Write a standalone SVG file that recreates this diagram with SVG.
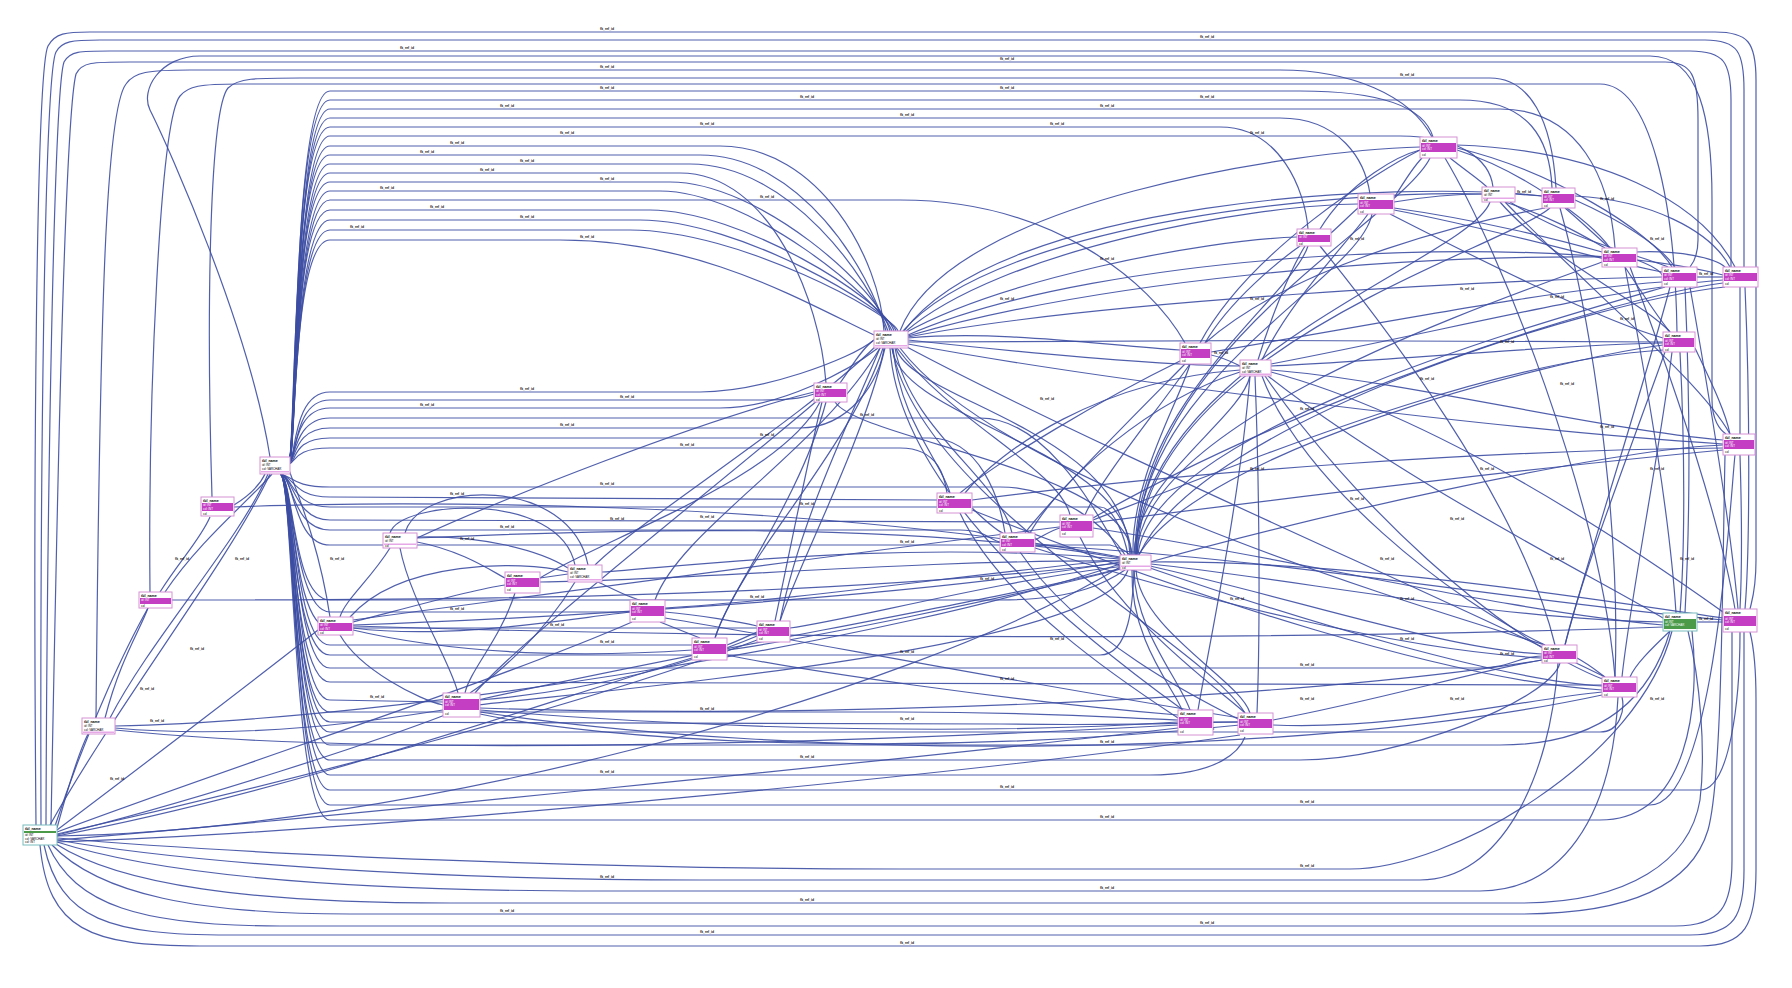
<svg xmlns="http://www.w3.org/2000/svg" width="1792" height="988" viewBox="0 0 1792 988">
<style>
.e{fill:none;stroke:#3d4ea3;stroke-width:1.2;stroke-opacity:.9}
.b{fill:#fff;stroke:#d592d5;stroke-width:1}
.bg{fill:#fff;stroke:#7bbcbc;stroke-width:1}
.k{fill:#c33ec3}
.g{fill:#4a9a4a}
.p{fill:#e7a8e7}
.h{font:bold 3.6px "Liberation Sans",sans-serif;fill:#000}
.w{font:2.9px "Liberation Sans",sans-serif;fill:#fff}
.r{font:2.9px "Liberation Sans",sans-serif;fill:#000}
.l{font:bold 3.4px "Liberation Sans",sans-serif;fill:#111}
</style>
<rect width="1792" height="988" fill="#fff"/>
<g id="connectors">
<path class="e" d="M36 825 C33 500 36 70 48 46 C55 33 66 32 90 32 L1715 32 C1748 32 1756 42 1756 80 L1756 560 C1756 590 1752 600 1750 609"/>
<path class="e" d="M41 825 C40 500 44 75 56 52 C62 41 72 40 100 40 L1705 40 C1738 40 1744 52 1744 90 L1744 267"/>
<path class="e" d="M46 825 C47 500 54 90 64 62 C70 51 80 51 110 51 L1690 51 C1724 51 1731 62 1731 100 L1731 267"/>
<path class="e" d="M51 825 C56 560 64 120 76 74 C82 62 92 62 130 62 L1665 62 C1692 62 1698 75 1698 120 L1698 240 C1698 255 1694 262 1690 267"/>
<path class="e" d="M96 718 C100 300 106 110 126 84 C134 72 148 70 190 70 L1280 70 C1350 70 1410 95 1432 137"/>
<path class="e" d="M212 497 C206 300 210 110 228 88 C238 78 255 78 300 78 L1490 78 C1530 78 1552 120 1556 188"/>
<path class="e" d="M150 592 C148 400 160 120 180 96 C188 86 200 84 240 84 L1600 84 C1650 84 1675 200 1677 332"/>
<path class="e" d="M270 457 C250 330 170 150 150 110 C140 90 160 56 200 56 L1650 56 C1700 56 1712 120 1712 200 L1712 400 C1712 420 1720 430 1726 434"/>
<path class="e" d="M40 845 C48 930 90 946 200 946 L1700 946 C1745 946 1756 925 1756 870 L1756 700 C1756 660 1752 640 1750 632"/>
<path class="e" d="M44 845 C60 920 110 935 230 935 L1690 935 C1735 935 1744 915 1744 870 L1744 632"/>
<path class="e" d="M48 845 C75 905 140 926 280 926 L1675 926 C1722 926 1732 905 1732 860 L1732 632"/>
<path class="e" d="M52 845 C100 895 200 914 350 914 L1520 914 C1620 914 1690 890 1708 830 C1722 780 1722 600 1725 455"/>
<path class="e" d="M56 844 C120 885 250 903 450 903 L1520 903 C1630 903 1690 860 1700 800 C1706 750 1700 680 1688 631"/>
<path class="e" d="M57 842 C160 875 350 891 600 891 L1480 891 C1560 891 1612 820 1618 697"/>
<path class="e" d="M57 840 C200 865 450 880 700 880 L1420 880 C1500 880 1550 780 1558 663"/>
<path class="e" d="M57 838 C250 855 600 869 900 869 L1350 869 C1450 869 1640 760 1672 631"/>
<path class="e" d="M289 460 C297 458 292 91 330 91 L1300 91 C1390 91 1425 110 1433 137"/>
<path class="e" d="M289 460 C296 458 292 100 330 100 L1460 100 C1530 100 1550 140 1552 188"/>
<path class="e" d="M289 461 C297 458 293 109 330 109 L1500 109 C1580 109 1610 180 1615 248"/>
<path class="e" d="M289 461 C296 458 293 118 330 118 L1280 118 C1340 118 1365 160 1370 194"/>
<path class="e" d="M289 461 C295 458 292 127 330 127 L1220 127 C1280 127 1305 190 1308 229"/>
<path class="e" d="M289 461 C296 458 294 136 330 136 L1400 136 C1460 136 1490 160 1493 187"/>
<path class="e" d="M289 462 C297 458 293 146 330 146 L720 146 C820 146 880 260 884 331"/>
<path class="e" d="M289 462 C296 458 292 155 330 155 L700 155 C800 155 870 270 886 331"/>
<path class="e" d="M289 462 C295 458 294 164 330 164 L690 164 C790 164 870 280 888 331"/>
<path class="e" d="M289 462 C297 458 293 173 330 173 L680 173 C770 173 820 300 826 383"/>
<path class="e" d="M289 462 C296 458 292 182 330 182 L670 182 C760 182 880 290 890 331"/>
<path class="e" d="M289 462 C295 458 294 191 330 191 L660 191 C750 191 880 300 892 331"/>
<path class="e" d="M289 462 C297 458 293 200 330 200 L900 200 C1050 200 1150 280 1185 343"/>
<path class="e" d="M289 462 C296 458 292 210 330 210 L650 210 C740 210 885 300 894 331"/>
<path class="e" d="M289 462 C295 458 294 220 330 220 L640 220 C740 220 890 310 896 331"/>
<path class="e" d="M289 462 C296 458 293 230 330 230 L630 230 C740 230 893 315 898 331"/>
<path class="e" d="M289 462 C296 458 292 240 330 240 L560 240 C700 240 800 300 874 335"/>
<path class="e" d="M289 462 C296 462 292 392 330 392 L700 392 C760 392 850 360 874 340"/>
<path class="e" d="M289 462 C297 462 293 400 330 400 L760 400 C800 400 808 396 814 394"/>
<path class="e" d="M289 463 C296 462 292 408 330 408 L720 408 C780 408 850 370 878 348"/>
<path class="e" d="M289 463 C295 462 294 418 330 418 L980 418 C1050 418 1100 520 1122 556"/>
<path class="e" d="M289 463 C296 462 293 428 330 428 L800 428 C850 428 880 380 884 348"/>
<path class="e" d="M289 464 C297 462 292 438 330 438 L930 438 C980 438 1000 500 1005 533"/>
<path class="e" d="M289 464 C296 462 294 448 330 448 L900 448 C940 448 945 480 947 493"/>
<path class="e" d="M280 474 C293 476 292 487 330 487 L1000 487 C1060 487 1110 530 1125 555"/>
<path class="e" d="M280 474 C294 476 293 497 330 497 L937 500"/>
<path class="e" d="M280 474 C293 476 292 507 330 507 L1100 507 C1115 507 1125 540 1128 555"/>
<path class="e" d="M280 474 C294 476 294 520 330 520 L1060 522"/>
<path class="e" d="M280 474 C293 476 292 530 330 530 L960 530 C985 530 990 540 1000 542"/>
<path class="e" d="M280 474 C295 476 293 545 330 545 L1110 545 C1122 548 1127 552 1130 555"/>
<path class="e" d="M280 474 C294 476 292 600 330 600 L1000 600 C1080 600 1110 580 1125 570"/>
<path class="e" d="M280 474 C293 476 294 612 330 612 L630 612"/>
<path class="e" d="M280 474 C294 476 292 628 330 628 L757 628"/>
<path class="e" d="M280 474 C295 476 293 645 330 645 L692 645"/>
<path class="e" d="M280 474 C293 476 292 655 330 655 L1100 655 C1130 655 1133 600 1134 570"/>
<path class="e" d="M280 474 C294 476 294 668 330 668 L1480 668 C1510 668 1520 656 1542 656"/>
<path class="e" d="M280 474 C293 476 292 682 330 682 L1602 685"/>
<path class="e" d="M280 474 C295 476 293 700 330 700 L443 702"/>
<path class="e" d="M280 474 C294 476 292 712 330 712 L900 712 C1050 712 1120 718 1178 720"/>
<path class="e" d="M280 474 C293 476 294 722 330 722 L1000 724 C1150 726 1200 722 1238 722"/>
<path class="e" d="M280 474 C294 476 292 732 330 732 L1600 732 C1620 732 1625 710 1622 697"/>
<path class="e" d="M280 474 C295 476 293 745 330 745 L1500 745 C1600 745 1650 700 1670 631"/>
<path class="e" d="M280 474 C294 476 292 760 330 760 L1300 760 C1400 760 1550 700 1560 663"/>
<path class="e" d="M280 474 C293 476 294 775 330 775 L1150 775 C1220 775 1240 750 1245 737"/>
<path class="e" d="M280 474 C294 476 292 790 330 790 L1700 790 C1730 790 1740 700 1740 632"/>
<path class="e" d="M280 474 C295 476 293 805 330 805 L1650 805 C1715 805 1730 500 1735 455"/>
<path class="e" d="M280 474 C294 476 292 820 330 820 L1600 820 C1690 820 1700 700 1692 631"/>
<path class="e" d="M1133 555 C1131 480 1180 400 1190 364"/>
<path class="e" d="M1134 555 C1135 480 1240 420 1250 376"/>
<path class="e" d="M1135 555 C1135 400 1290 300 1308 246"/>
<path class="e" d="M1136 555 C1136 380 1360 280 1372 214"/>
<path class="e" d="M1132 555 C1128 470 860 440 835 402"/>
<path class="e" d="M1131 555 C1130 450 900 420 892 348"/>
<path class="e" d="M1130 555 C1125 430 910 400 896 348"/>
<path class="e" d="M1137 555 C1140 420 1500 300 1602 262"/>
<path class="e" d="M1138 555 C1150 430 1550 320 1665 287"/>
<path class="e" d="M1138 556 C1200 450 1550 360 1663 345"/>
<path class="e" d="M1150 562 C1300 520 1600 450 1723 445"/>
<path class="e" d="M1139 555 C1200 420 1600 300 1725 287"/>
<path class="e" d="M1136 555 C1140 350 1400 220 1430 158"/>
<path class="e" d="M1137 555 C1145 350 1500 250 1550 208"/>
<path class="e" d="M1136 555 C1140 360 1470 260 1490 202"/>
<path class="e" d="M1134 570 C1135 630 1180 680 1190 710"/>
<path class="e" d="M1136 570 C1140 630 1240 680 1250 713"/>
<path class="e" d="M1132 570 C1130 640 1175 690 1182 710"/>
<path class="e" d="M1128 570 C1100 650 600 690 478 705"/>
<path class="e" d="M1125 568 C1000 600 800 640 727 650"/>
<path class="e" d="M1125 566 C1000 580 850 620 790 628"/>
<path class="e" d="M1150 566 C1300 600 1450 650 1542 654"/>
<path class="e" d="M1150 568 C1300 620 1500 680 1602 686"/>
<path class="e" d="M1151 564 C1300 580 1500 620 1663 622"/>
<path class="e" d="M1151 562 C1350 560 1600 600 1723 618"/>
<path class="e" d="M1122 566 C900 700 400 830 57 836"/>
<path class="e" d="M1120 564 C900 640 400 720 115 726"/>
<path class="e" d="M1120 560 C1000 570 800 600 665 608"/>
<path class="e" d="M1120 559 C900 540 700 565 602 572"/>
<path class="e" d="M1120 561 C900 560 700 580 540 582"/>
<path class="e" d="M1120 558 C900 520 600 530 417 538"/>
<path class="e" d="M1120 562 C900 600 500 620 353 625"/>
<path class="e" d="M1120 557 C800 500 400 500 234 507"/>
<path class="e" d="M1120 563 C800 600 400 600 172 600"/>
<path class="e" d="M908 338 C1000 330 1100 345 1180 350"/>
<path class="e" d="M908 340 C1000 350 1150 365 1240 366"/>
<path class="e" d="M905 333 C1000 280 1200 240 1297 237"/>
<path class="e" d="M905 332 C1000 250 1250 205 1358 204"/>
<path class="e" d="M900 331 C950 200 1300 150 1420 147"/>
<path class="e" d="M903 331 C1000 220 1350 190 1482 194"/>
<path class="e" d="M904 331 C1000 200 1400 180 1542 196"/>
<path class="e" d="M908 336 C1100 280 1400 255 1602 257"/>
<path class="e" d="M908 337 C1100 300 1500 280 1662 277"/>
<path class="e" d="M908 342 C1100 340 1500 340 1663 342"/>
<path class="e" d="M908 344 C1100 380 1500 430 1723 444"/>
<path class="e" d="M908 335 C1100 250 1550 230 1723 275"/>
<path class="e" d="M893 348 C900 420 940 460 950 493"/>
<path class="e" d="M895 348 C910 430 1000 480 1012 533"/>
<path class="e" d="M897 348 C950 420 1060 470 1070 515"/>
<path class="e" d="M890 348 C900 500 1100 650 1183 710"/>
<path class="e" d="M892 348 C920 500 1200 640 1245 713"/>
<path class="e" d="M874 340 C860 350 850 370 840 383"/>
<path class="e" d="M885 348 C860 450 800 560 780 621"/>
<path class="e" d="M883 348 C850 450 740 560 715 638"/>
<path class="e" d="M880 348 C820 450 680 530 655 600"/>
<path class="e" d="M876 346 C800 420 640 520 595 565"/>
<path class="e" d="M900 348 C1000 480 1400 600 1545 645"/>
<path class="e" d="M905 346 C1100 450 1450 600 1605 677"/>
<path class="e" d="M820 402 C780 480 600 540 540 578"/>
<path class="e" d="M826 402 C800 500 730 590 715 638"/>
<path class="e" d="M818 400 C700 500 520 640 475 693"/>
<path class="e" d="M814 392 C700 420 500 500 417 538"/>
<path class="e" d="M390 548 C370 580 345 600 340 617"/>
<path class="e" d="M417 537 C480 535 540 550 568 568"/>
<path class="e" d="M400 548 C410 600 450 660 458 693"/>
<path class="e" d="M417 542 C460 550 490 570 505 578"/>
<path class="e" d="M390 533 C400 500 560 490 575 565"/>
<path class="e" d="M405 533 C420 480 570 475 588 565"/>
<path class="e" d="M353 622 C400 610 470 590 505 585"/>
<path class="e" d="M340 635 C360 670 420 700 443 705"/>
<path class="e" d="M350 617 C400 560 520 560 568 572"/>
<path class="e" d="M353 628 C450 640 560 620 630 612"/>
<path class="e" d="M353 630 C480 660 620 655 692 650"/>
<path class="e" d="M330 617 C320 550 300 500 289 470"/>
<path class="e" d="M515 593 C500 640 470 670 465 693"/>
<path class="e" d="M540 578 L568 574"/>
<path class="e" d="M598 582 C615 590 630 598 640 600"/>
<path class="e" d="M575 582 C540 640 490 680 470 693"/>
<path class="e" d="M660 622 C680 630 695 636 700 638"/>
<path class="e" d="M665 612 C700 615 740 622 757 626"/>
<path class="e" d="M727 645 C740 640 750 635 757 632"/>
<path class="e" d="M480 700 C600 690 700 660 757 636"/>
<path class="e" d="M775 621 C790 550 810 450 822 402"/>
<path class="e" d="M780 621 C800 520 850 420 880 348"/>
<path class="e" d="M57 828 C70 780 80 750 88 734"/>
<path class="e" d="M55 826 C90 720 130 640 148 608"/>
<path class="e" d="M50 825 C120 700 230 560 270 474"/>
<path class="e" d="M105 718 C120 660 140 630 148 608"/>
<path class="e" d="M110 718 C150 640 240 540 268 474"/>
<path class="e" d="M160 592 C180 560 200 540 210 517"/>
<path class="e" d="M165 592 C200 540 250 500 272 474"/>
<path class="e" d="M234 505 C250 495 260 485 265 474"/>
<path class="e" d="M115 728 C250 740 380 720 443 710"/>
<path class="e" d="M115 730 C400 760 900 740 1178 725"/>
<path class="e" d="M57 835 C200 800 380 740 445 715"/>
<path class="e" d="M57 830 C150 760 280 660 318 630"/>
<path class="e" d="M57 840 C300 820 900 760 1178 728"/>
<path class="e" d="M57 842 C400 830 1000 770 1240 735"/>
<path class="e" d="M57 832 C250 760 500 680 632 622"/>
<path class="e" d="M57 834 C300 780 600 700 757 640"/>
<path class="e" d="M57 836 C300 790 550 700 692 658"/>
<path class="e" d="M1211 355 C1225 358 1232 362 1240 366"/>
<path class="e" d="M1205 343 C1230 300 1280 260 1300 246"/>
<path class="e" d="M1258 360 C1270 320 1290 270 1305 246"/>
<path class="e" d="M1262 360 C1290 300 1350 240 1368 214"/>
<path class="e" d="M1331 233 C1340 225 1350 215 1358 208"/>
<path class="e" d="M1394 198 C1405 180 1415 165 1422 158"/>
<path class="e" d="M1394 202 C1430 196 1460 194 1482 194"/>
<path class="e" d="M1450 158 C1465 170 1480 180 1487 187"/>
<path class="e" d="M1515 194 L1542 196"/>
<path class="e" d="M1505 202 C1560 220 1590 240 1605 248"/>
<path class="e" d="M1500 202 C1550 260 1640 300 1670 332"/>
<path class="e" d="M1510 202 C1570 240 1640 255 1668 267"/>
<path class="e" d="M1565 208 C1585 225 1600 240 1610 248"/>
<path class="e" d="M1560 208 C1600 350 1620 550 1615 677"/>
<path class="e" d="M1637 260 C1650 265 1660 270 1662 275"/>
<path class="e" d="M1697 277 L1723 277"/>
<path class="e" d="M1625 267 C1640 290 1660 320 1670 332"/>
<path class="e" d="M1680 352 C1685 450 1685 550 1680 613"/>
<path class="e" d="M1672 352 C1660 450 1630 600 1622 677"/>
<path class="e" d="M1685 287 C1690 400 1690 520 1685 613"/>
<path class="e" d="M1745 287 C1750 400 1750 550 1745 609"/>
<path class="e" d="M1740 455 C1742 520 1742 570 1740 609"/>
<path class="e" d="M1697 622 L1723 622"/>
<path class="e" d="M1577 658 C1590 665 1598 672 1605 677"/>
<path class="e" d="M1670 631 C1650 650 1635 665 1630 677"/>
<path class="e" d="M1555 645 C1520 500 1380 320 1320 246"/>
<path class="e" d="M1615 677 C1600 500 1500 250 1445 158"/>
<path class="e" d="M1271 370 C1400 380 1600 430 1723 440"/>
<path class="e" d="M1271 366 C1400 360 1550 345 1663 343"/>
<path class="e" d="M1271 364 C1450 330 1600 290 1723 280"/>
<path class="e" d="M1262 376 C1300 480 1450 600 1545 645"/>
<path class="e" d="M1265 376 C1350 500 1500 640 1605 680"/>
<path class="e" d="M1268 376 C1400 480 1600 580 1663 618"/>
<path class="e" d="M1271 372 C1450 420 1650 560 1723 612"/>
<path class="e" d="M1250 376 C1240 500 1210 640 1198 710"/>
<path class="e" d="M1255 376 C1260 500 1260 640 1257 713"/>
<path class="e" d="M1240 372 C1150 400 1060 480 1030 533"/>
<path class="e" d="M1240 370 C1100 380 1000 450 965 493"/>
<path class="e" d="M1190 364 C1150 420 1100 480 1085 515"/>
<path class="e" d="M1185 364 C1120 430 1050 500 1025 533"/>
<path class="e" d="M1182 360 C1100 400 1000 460 960 493"/>
<path class="e" d="M1200 343 C1250 250 1380 170 1420 150"/>
<path class="e" d="M1205 343 C1300 260 1480 220 1545 208"/>
<path class="e" d="M1211 352 C1400 320 1550 290 1662 282"/>
<path class="e" d="M1320 229 C1350 180 1400 155 1420 150"/>
<path class="e" d="M1394 208 C1480 220 1560 240 1602 252"/>
<path class="e" d="M1394 210 C1500 230 1600 260 1662 272"/>
<path class="e" d="M1390 214 C1480 260 1600 320 1663 338"/>
<path class="e" d="M1457 150 C1520 170 1590 220 1610 248"/>
<path class="e" d="M1457 145 C1600 150 1700 200 1735 267"/>
<path class="e" d="M1457 148 C1550 170 1650 230 1672 267"/>
<path class="e" d="M1575 196 C1650 200 1710 230 1730 267"/>
<path class="e" d="M1575 200 C1620 220 1660 245 1675 267"/>
<path class="e" d="M1635 252 C1680 250 1715 258 1725 267"/>
<path class="e" d="M1505 202 C1600 300 1700 380 1730 434"/>
<path class="e" d="M1625 267 C1650 400 1670 520 1676 613"/>
<path class="e" d="M1630 267 C1680 400 1720 520 1735 609"/>
<path class="e" d="M1690 287 C1710 400 1730 520 1738 609"/>
<path class="e" d="M1740 287 L1740 434"/>
<path class="e" d="M1695 348 C1710 380 1725 410 1730 434"/>
<path class="e" d="M1670 287 C1640 400 1590 550 1565 645"/>
<path class="e" d="M1665 352 C1630 450 1580 580 1565 645"/>
<path class="e" d="M972 500 C1200 470 1500 450 1723 448"/>
<path class="e" d="M1035 545 C1300 560 1500 600 1723 620"/>
<path class="e" d="M1093 520 C1300 440 1500 360 1663 350"/>
<path class="e" d="M1093 518 C1300 400 1600 300 1723 283"/>
<path class="e" d="M972 510 C1200 600 1450 680 1602 690"/>
<path class="e" d="M1035 548 C1200 600 1400 650 1542 658"/>
<path class="e" d="M1093 528 C1300 560 1500 610 1663 625"/>
<path class="e" d="M960 513 C1000 600 1120 680 1178 718"/>
<path class="e" d="M1020 552 C1080 640 1200 700 1240 720"/>
<path class="e" d="M1080 537 C1120 620 1220 690 1245 713"/>
<path class="e" d="M972 508 C985 520 995 530 1003 533"/>
<path class="e" d="M1035 540 C1045 535 1052 530 1060 528"/>
<path class="e" d="M1178 722 C900 740 600 720 480 710"/>
<path class="e" d="M1240 725 C900 760 600 740 480 714"/>
<path class="e" d="M1213 722 L1238 722"/>
<path class="e" d="M1273 720 C1380 700 1480 670 1542 660"/>
<path class="e" d="M1273 725 C1400 730 1520 700 1602 692"/>
<path class="e" d="M1178 715 C1000 700 800 670 727 655"/>
<path class="e" d="M1240 718 C1000 680 800 640 665 618"/>
<path class="e" d="M480 712 C800 760 1300 760 1602 695"/>
<path class="e" d="M480 708 C800 720 1300 700 1542 660"/>
<path class="e" d="M478 700 C700 650 1000 600 1122 568"/>
<path class="e" d="M353 626 C800 640 1300 640 1663 627"/>
<path class="e" d="M353 620 C800 560 1400 480 1723 450"/>
<g id="edge-labels">
<text class="l" x="600" y="30">fk_ref_id</text><text class="l" x="1200" y="38">fk_ref_id</text><text class="l" x="400" y="49">fk_ref_id</text><text class="l" x="1000" y="60">fk_ref_id</text><text class="l" x="600" y="68">fk_ref_id</text><text class="l" x="1400" y="76">fk_ref_id</text>
<text class="l" x="600" y="89">fk_ref_id</text><text class="l" x="1000" y="89">fk_ref_id</text><text class="l" x="800" y="98">fk_ref_id</text><text class="l" x="1200" y="98">fk_ref_id</text><text class="l" x="500" y="107">fk_ref_id</text><text class="l" x="1100" y="107">fk_ref_id</text><text class="l" x="900" y="116">fk_ref_id</text><text class="l" x="700" y="125">fk_ref_id</text><text class="l" x="1050" y="125">fk_ref_id</text><text class="l" x="560" y="134">fk_ref_id</text><text class="l" x="1250" y="134">fk_ref_id</text><text class="l" x="450" y="144">fk_ref_id</text><text class="l" x="420" y="153">fk_ref_id</text><text class="l" x="520" y="162">fk_ref_id</text><text class="l" x="480" y="171">fk_ref_id</text><text class="l" x="600" y="180">fk_ref_id</text><text class="l" x="380" y="189">fk_ref_id</text><text class="l" x="760" y="198">fk_ref_id</text><text class="l" x="430" y="208">fk_ref_id</text><text class="l" x="520" y="218">fk_ref_id</text><text class="l" x="350" y="228">fk_ref_id</text><text class="l" x="580" y="238">fk_ref_id</text>
<text class="l" x="520" y="390">fk_ref_id</text><text class="l" x="620" y="398">fk_ref_id</text><text class="l" x="420" y="406">fk_ref_id</text><text class="l" x="860" y="416">fk_ref_id</text><text class="l" x="560" y="426">fk_ref_id</text><text class="l" x="760" y="436">fk_ref_id</text><text class="l" x="680" y="446">fk_ref_id</text>
<text class="l" x="600" y="485">fk_ref_id</text><text class="l" x="450" y="495">fk_ref_id</text><text class="l" x="800" y="505">fk_ref_id</text><text class="l" x="700" y="518">fk_ref_id</text><text class="l" x="500" y="528">fk_ref_id</text><text class="l" x="900" y="543">fk_ref_id</text><text class="l" x="750" y="598">fk_ref_id</text><text class="l" x="450" y="610">fk_ref_id</text><text class="l" x="550" y="626">fk_ref_id</text><text class="l" x="600" y="643">fk_ref_id</text><text class="l" x="900" y="653">fk_ref_id</text><text class="l" x="1300" y="666">fk_ref_id</text><text class="l" x="1000" y="680">fk_ref_id</text><text class="l" x="370" y="698">fk_ref_id</text><text class="l" x="700" y="710">fk_ref_id</text><text class="l" x="900" y="720">fk_ref_id</text><text class="l" x="1200" y="730">fk_ref_id</text><text class="l" x="1100" y="743">fk_ref_id</text><text class="l" x="800" y="758">fk_ref_id</text><text class="l" x="600" y="773">fk_ref_id</text><text class="l" x="1000" y="788">fk_ref_id</text><text class="l" x="1300" y="803">fk_ref_id</text><text class="l" x="1100" y="818">fk_ref_id</text>
<text class="l" x="900" y="944">fk_ref_id</text><text class="l" x="700" y="933">fk_ref_id</text><text class="l" x="1200" y="924">fk_ref_id</text><text class="l" x="500" y="912">fk_ref_id</text><text class="l" x="800" y="901">fk_ref_id</text><text class="l" x="1100" y="889">fk_ref_id</text><text class="l" x="600" y="878">fk_ref_id</text><text class="l" x="1300" y="867">fk_ref_id</text>
<text class="l" x="1420" y="380">fk_ref_id</text><text class="l" x="1500" y="343">fk_ref_id</text><text class="l" x="1550" y="298">fk_ref_id</text><text class="l" x="1350" y="240">fk_ref_id</text><text class="l" x="1600" y="428">fk_ref_id</text><text class="l" x="1450" y="520">fk_ref_id</text><text class="l" x="1550" y="560">fk_ref_id</text><text class="l" x="1400" y="600">fk_ref_id</text><text class="l" x="1699" y="620">fk_ref_id</text><text class="l" x="1500" y="655">fk_ref_id</text><text class="l" x="1300" y="700">fk_ref_id</text><text class="l" x="1699" y="275">fk_ref_id</text><text class="l" x="1250" y="470">fk_ref_id</text><text class="l" x="1350" y="500">fk_ref_id</text><text class="l" x="1517" y="193">fk_ref_id</text><text class="l" x="1214" y="354">fk_ref_id</text>
<text class="l" x="1300" y="410">fk_ref_id</text><text class="l" x="1460" y="290">fk_ref_id</text><text class="l" x="1600" y="200">fk_ref_id</text><text class="l" x="1650" y="240">fk_ref_id</text><text class="l" x="1560" y="385">fk_ref_id</text><text class="l" x="1650" y="470">fk_ref_id</text><text class="l" x="1480" y="470">fk_ref_id</text><text class="l" x="1380" y="560">fk_ref_id</text><text class="l" x="1230" y="600">fk_ref_id</text><text class="l" x="1050" y="640">fk_ref_id</text><text class="l" x="980" y="580">fk_ref_id</text><text class="l" x="1040" y="400">fk_ref_id</text><text class="l" x="1000" y="300">fk_ref_id</text><text class="l" x="1100" y="260">fk_ref_id</text><text class="l" x="1250" y="300">fk_ref_id</text><text class="l" x="1400" y="640">fk_ref_id</text><text class="l" x="1450" y="700">fk_ref_id</text><text class="l" x="1650" y="700">fk_ref_id</text><text class="l" x="1680" y="560">fk_ref_id</text><text class="l" x="1620" y="320">fk_ref_id</text>
<text class="l" x="150" y="722">fk_ref_id</text><text class="l" x="190" y="650">fk_ref_id</text><text class="l" x="175" y="560">fk_ref_id</text><text class="l" x="235" y="560">fk_ref_id</text><text class="l" x="330" y="560">fk_ref_id</text><text class="l" x="460" y="540">fk_ref_id</text><text class="l" x="610" y="520">fk_ref_id</text><text class="l" x="110" y="780">fk_ref_id</text><text class="l" x="140" y="690">fk_ref_id</text>
</g>
</g>
<g id="n1" transform="translate(23,825)"><rect class="bg" width="34" height="20"/><text class="h" x="2" y="4.5">tbl_name</text><rect class="g" x="1" y="6" width="32" height="2"/><text class="r" x="2" y="11">id: INT</text><text class="r" x="2" y="14.5">col: VARCHAR</text><text class="r" x="2" y="18">col: INT</text></g>
<g id="n2" transform="translate(82,718)"><rect class="b" width="33" height="16"/><text class="h" x="2" y="4.5">tbl_name</text><text class="r" x="2" y="9">id: INT</text><text class="r" x="2" y="12.5">col: VARCHAR</text><rect class="p" x="1" y="13.5" width="31" height="1.5"/></g>
<g id="n3" transform="translate(139,592)"><rect class="b" width="33" height="16"/><text class="h" x="2" y="4.5">tbl_name</text><rect class="k" x="1" y="6" width="31" height="6"/><text class="w" x="2" y="9">id: INT</text><text class="r" x="2" y="15">col</text></g>
<g id="n4" transform="translate(201,497)"><rect class="b" width="33" height="19"/><text class="h" x="2" y="4.5">tbl_name</text><rect class="k" x="1" y="6" width="31" height="8"/><text class="w" x="2" y="9">id: INT</text><text class="w" x="2" y="12.5">col: INT</text><text class="r" x="2" y="17.5">col</text></g>
<g id="n5" transform="translate(260,457)"><rect class="b" width="30" height="17"/><text class="h" x="2" y="4.5">tbl_name</text><text class="r" x="2" y="9">id: INT</text><text class="r" x="2" y="12.5">col: VARCHAR</text><rect class="p" x="1" y="14" width="28" height="1.5"/></g>
<g id="n6" transform="translate(383,533)"><rect class="b" width="34" height="15"/><text class="h" x="2" y="4.5">tbl_name</text><text class="r" x="2" y="9">id: INT</text><rect class="p" x="1" y="10.5" width="32" height="1.5"/><text class="r" x="2" y="14">col</text></g>
<g id="n7" transform="translate(318,617)"><rect class="b" width="35" height="18"/><text class="h" x="2" y="4.5">tbl_name</text><rect class="k" x="1" y="6" width="33" height="8"/><text class="w" x="2" y="9">id: INT</text><text class="w" x="2" y="12.5">col: INT</text><text class="r" x="2" y="17">col</text></g>
<g id="n8" transform="translate(505,572)"><rect class="b" width="35" height="21"/><text class="h" x="2" y="4.5">tbl_name</text><rect class="k" x="1" y="6" width="33" height="9"/><text class="w" x="2" y="9.5">id: INT</text><text class="w" x="2" y="13">col: INT</text><text class="r" x="2" y="19">col</text></g>
<g id="n9" transform="translate(568,565)"><rect class="b" width="34" height="17"/><text class="h" x="2" y="4.5">tbl_name</text><text class="r" x="2" y="9">id: INT</text><text class="r" x="2" y="12.5">col: VARCHAR</text><rect class="p" x="1" y="14" width="32" height="1.5"/></g>
<g id="n10" transform="translate(630,600)"><rect class="b" width="35" height="22"/><text class="h" x="2" y="4.5">tbl_name</text><rect class="k" x="1" y="6" width="33" height="10"/><text class="w" x="2" y="9.5">id: INT</text><text class="w" x="2" y="13">col: INT</text><text class="r" x="2" y="20">col</text></g>
<g id="n11" transform="translate(692,638)"><rect class="b" width="35" height="22"/><text class="h" x="2" y="4.5">tbl_name</text><rect class="k" x="1" y="6" width="33" height="10"/><text class="w" x="2" y="9.5">id: INT</text><text class="w" x="2" y="13">col: INT</text><text class="r" x="2" y="20">col</text></g>
<g id="n12" transform="translate(757,621)"><rect class="b" width="33" height="21"/><text class="h" x="2" y="4.5">tbl_name</text><rect class="k" x="1" y="6" width="31" height="9"/><text class="w" x="2" y="9.5">id: INT</text><text class="w" x="2" y="13">col: INT</text><text class="r" x="2" y="19">col</text></g>
<g id="n13" transform="translate(443,693)"><rect class="b" width="37" height="24"/><text class="h" x="2" y="4.5">tbl_name</text><rect class="k" x="1" y="6" width="35" height="11"/><text class="w" x="2" y="9.5">id: INT</text><text class="w" x="2" y="13">col: INT</text><text class="r" x="2" y="21.5">col</text></g>
<g id="n14" transform="translate(814,383)"><rect class="b" width="33" height="19"/><text class="h" x="2" y="4.5">tbl_name</text><rect class="k" x="1" y="6" width="31" height="8"/><text class="w" x="2" y="9">id: INT</text><text class="w" x="2" y="12.5">col: INT</text><text class="r" x="2" y="17.5">col</text></g>
<g id="n15" transform="translate(874,331)"><rect class="b" width="34" height="17"/><text class="h" x="2" y="4.5">tbl_name</text><text class="r" x="2" y="9">id: INT</text><text class="r" x="2" y="12.5">col: VARCHAR</text><rect class="p" x="1" y="14" width="32" height="1.5"/></g>
<g id="n16" transform="translate(937,493)"><rect class="b" width="35" height="20"/><text class="h" x="2" y="4.5">tbl_name</text><rect class="k" x="1" y="6" width="33" height="9"/><text class="w" x="2" y="9.5">id: INT</text><text class="w" x="2" y="13">col: INT</text><text class="r" x="2" y="18.5">col</text></g>
<g id="n17" transform="translate(1000,533)"><rect class="b" width="35" height="19"/><text class="h" x="2" y="4.5">tbl_name</text><rect class="k" x="1" y="6" width="33" height="8"/><text class="w" x="2" y="9">id: INT</text><text class="w" x="2" y="12.5">col: INT</text><text class="r" x="2" y="17.5">col</text></g>
<g id="n18" transform="translate(1060,515)"><rect class="b" width="33" height="22"/><text class="h" x="2" y="4.5">tbl_name</text><rect class="k" x="1" y="6" width="31" height="10"/><text class="w" x="2" y="9.5">id: INT</text><text class="w" x="2" y="13">col: INT</text><text class="r" x="2" y="20">col</text></g>
<g id="n19" transform="translate(1120,555)"><rect class="b" width="31" height="15"/><text class="h" x="2" y="4.5">tbl_name</text><text class="r" x="2" y="9">id: INT</text><rect class="p" x="1" y="10.5" width="29" height="1.5"/><text class="r" x="2" y="14">col</text></g>
<g id="n20" transform="translate(1180,343)"><rect class="b" width="31" height="21"/><text class="h" x="2" y="4.5">tbl_name</text><rect class="k" x="1" y="6" width="29" height="9"/><text class="w" x="2" y="9.5">id: INT</text><text class="w" x="2" y="13">col: INT</text><text class="r" x="2" y="19">col</text></g>
<g id="n21" transform="translate(1240,360)"><rect class="b" width="31" height="16"/><text class="h" x="2" y="4.5">tbl_name</text><text class="r" x="2" y="9">id: INT</text><text class="r" x="2" y="12.5">col: VARCHAR</text><rect class="p" x="1" y="13.5" width="29" height="1.5"/></g>
<g id="n22" transform="translate(1297,229)"><rect class="b" width="34" height="17"/><text class="h" x="2" y="4.5">tbl_name</text><rect class="k" x="1" y="6" width="32" height="7"/><text class="w" x="2" y="9">id: INT</text><text class="r" x="2" y="16">col</text></g>
<g id="n23" transform="translate(1358,194)"><rect class="b" width="36" height="20"/><text class="h" x="2" y="4.5">tbl_name</text><rect class="k" x="1" y="6" width="34" height="9"/><text class="w" x="2" y="9.5">id: INT</text><text class="w" x="2" y="13">col: INT</text><text class="r" x="2" y="18.5">col</text></g>
<g id="n24" transform="translate(1420,137)"><rect class="b" width="37" height="21"/><text class="h" x="2" y="4.5">tbl_name</text><rect class="k" x="1" y="6" width="35" height="9"/><text class="w" x="2" y="9.5">id: INT</text><text class="w" x="2" y="13">col: INT</text><text class="r" x="2" y="19">col</text></g>
<g id="n25" transform="translate(1482,187)"><rect class="b" width="33" height="15"/><text class="h" x="2" y="4.5">tbl_name</text><text class="r" x="2" y="9">id: INT</text><rect class="p" x="1" y="10.5" width="31" height="1.5"/><text class="r" x="2" y="14">col</text></g>
<g id="n26" transform="translate(1542,188)"><rect class="b" width="33" height="20"/><text class="h" x="2" y="4.5">tbl_name</text><rect class="k" x="1" y="6" width="31" height="9"/><text class="w" x="2" y="9.5">id: INT</text><text class="w" x="2" y="13">col: INT</text><text class="r" x="2" y="18.5">col</text></g>
<g id="n27" transform="translate(1602,248)"><rect class="b" width="35" height="19"/><text class="h" x="2" y="4.5">tbl_name</text><rect class="k" x="1" y="6" width="33" height="8"/><text class="w" x="2" y="9">id: INT</text><text class="w" x="2" y="12.5">col: INT</text><text class="r" x="2" y="17.5">col</text></g>
<g id="n28" transform="translate(1662,267)"><rect class="b" width="35" height="20"/><text class="h" x="2" y="4.5">tbl_name</text><rect class="k" x="1" y="6" width="33" height="8"/><text class="w" x="2" y="9">id: INT</text><text class="w" x="2" y="12.5">col: INT</text><text class="r" x="2" y="18">col</text></g>
<g id="n29" transform="translate(1723,267)"><rect class="b" width="35" height="20"/><text class="h" x="2" y="4.5">tbl_name</text><rect class="k" x="1" y="6" width="33" height="8"/><text class="w" x="2" y="9">id: INT</text><text class="w" x="2" y="12.5">col: INT</text><text class="r" x="2" y="18">col</text></g>
<g id="n30" transform="translate(1663,332)"><rect class="b" width="32" height="20"/><text class="h" x="2" y="4.5">tbl_name</text><rect class="k" x="1" y="6" width="30" height="9"/><text class="w" x="2" y="9.5">id: INT</text><text class="w" x="2" y="13">col: INT</text><text class="r" x="2" y="18.5">col</text></g>
<g id="n31" transform="translate(1723,434)"><rect class="b" width="32" height="21"/><text class="h" x="2" y="4.5">tbl_name</text><rect class="k" x="1" y="6" width="30" height="9"/><text class="w" x="2" y="9.5">id: INT</text><text class="w" x="2" y="13">col: INT</text><text class="r" x="2" y="19">col</text></g>
<g id="n32" transform="translate(1723,609)"><rect class="b" width="34" height="23"/><text class="h" x="2" y="4.5">tbl_name</text><rect class="k" x="1" y="7" width="32" height="10"/><text class="w" x="2" y="10.5">id: INT</text><text class="w" x="2" y="14">col: INT</text><text class="r" x="2" y="21">col</text></g>
<g id="n33" transform="translate(1663,613)"><rect class="bg" width="34" height="18"/><text class="h" x="2" y="4.5">tbl_name</text><rect class="g" x="1" y="6" width="32" height="10"/><text class="w" x="2" y="9.5">id: INT</text><text class="w" x="2" y="13">col: VARCHAR</text></g>
<g id="n34" transform="translate(1542,645)"><rect class="b" width="35" height="18"/><text class="h" x="2" y="4.5">tbl_name</text><rect class="k" x="1" y="6" width="33" height="8"/><text class="w" x="2" y="9">id: INT</text><text class="w" x="2" y="12.5">col: INT</text><text class="r" x="2" y="17">col</text></g>
<g id="n35" transform="translate(1602,677)"><rect class="b" width="35" height="20"/><text class="h" x="2" y="4.5">tbl_name</text><rect class="k" x="1" y="6" width="33" height="9"/><text class="w" x="2" y="9.5">id: INT</text><text class="w" x="2" y="13">col: INT</text><text class="r" x="2" y="18.5">col</text></g>
<g id="n36" transform="translate(1178,710)"><rect class="b" width="35" height="25"/><text class="h" x="2" y="4.5">tbl_name</text><rect class="k" x="1" y="7" width="33" height="11"/><text class="w" x="2" y="10.5">id: INT</text><text class="w" x="2" y="14">col: INT</text><text class="r" x="2" y="22.5">col</text></g>
<g id="n37" transform="translate(1238,713)"><rect class="b" width="35" height="21"/><text class="h" x="2" y="4.5">tbl_name</text><rect class="k" x="1" y="6" width="33" height="9"/><text class="w" x="2" y="9.5">id: INT</text><text class="w" x="2" y="13">col: INT</text><text class="r" x="2" y="19">col</text></g>
</svg>
